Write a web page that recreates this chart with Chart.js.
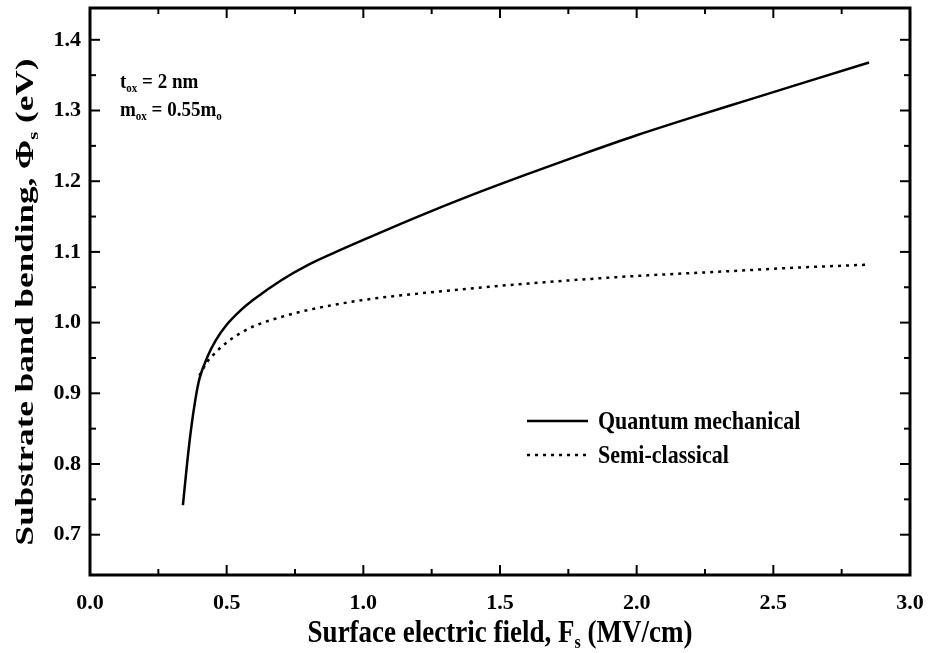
<!DOCTYPE html>
<html>
<head>
<meta charset="utf-8">
<script src="https://cdn.jsdelivr.net/npm/chart.js@4.4.0/dist/chart.umd.min.js"></script>
<style>
  html, body { margin: 0; background: #fff; }
  #wrap { width: 928px; height: 653px; }
</style>
</head>
<body>
<div id="wrap"><canvas id="bandChart"></canvas></div>
<script>
// Quantum mechanical band bending vs. surface field
const qmField   = [0.34, 0.355, 0.37, 0.385, 0.40, 0.43, 0.46, 0.50, 0.55, 0.60, 0.70, 0.80, 0.90, 1.00, 1.20, 1.40, 1.60, 1.80, 2.00, 2.20, 2.40, 2.60, 2.85];
const qmBending = [0.742, 0.80, 0.85, 0.89, 0.92, 0.952, 0.975, 0.997, 1.017, 1.033, 1.060, 1.082, 1.100, 1.117, 1.150, 1.181, 1.210, 1.238, 1.265, 1.290, 1.314, 1.338, 1.368];

// Semi-classical band bending vs. surface field
const scField   = [0.40, 0.43, 0.46, 0.50, 0.55, 0.60, 0.70, 0.80, 1.00, 1.20, 1.50, 1.80, 2.00, 2.30, 2.60, 2.85];
const scBending = [0.925, 0.945, 0.958, 0.972, 0.985, 0.995, 1.008, 1.018, 1.032, 1.041, 1.052, 1.061, 1.066, 1.072, 1.078, 1.082];

const xTicks = [0.0, 0.5, 1.0, 1.5, 2.0, 2.5, 3.0];
const yTicks = [0.7, 0.8, 0.9, 1.0, 1.1, 1.2, 1.3, 1.4];

const FONT = '"Liberation Serif", "Times New Roman", serif';

const toPoints = (xs, ys) => xs.map((v, i) => ({ x: v, y: ys[i] }));

// text with subscript pieces: parts = [[text, isSub], ...]
function richWidth(ctx, parts, size) {
  let w = 0;
  parts.forEach(([t, sub]) => {
    ctx.font = 'bold ' + (sub ? Math.round(size * 0.6) : size) + 'px ' + FONT;
    w += ctx.measureText(t).width;
  });
  return w;
}
// sx/sy stretch the glyphs (tall, condensed print)
function drawRich(ctx, parts, x, y, size, align, sx, sy) {
  ctx.save();
  ctx.translate(x, y);
  ctx.scale(sx || 1, sy || 1);
  let cx = align === 'center' ? -richWidth(ctx, parts, size) / 2 : 0;
  ctx.textBaseline = 'alphabetic';
  ctx.textAlign = 'left';
  parts.forEach(([t, sub]) => {
    ctx.font = 'bold ' + (sub ? Math.round(size * 0.6) : size) + 'px ' + FONT;
    ctx.fillText(t, cx, sub ? size * 0.2 : 0);
    cx += ctx.measureText(t).width;
  });
  ctx.restore();
}

// box frame with inward major/minor ticks on all four sides
const framePlugin = {
  id: 'frame',
  afterDraw(chart) {
    const { ctx, chartArea: a, scales: { x, y } } = chart;
    ctx.save();
    ctx.strokeStyle = '#000';
    const seg = (x1, y1, x2, y2) => { ctx.beginPath(); ctx.moveTo(x1, y1); ctx.lineTo(x2, y2); ctx.stroke(); };
    ctx.lineWidth = 2;
    for (let i = 0; i <= 12; i++) {
      const v = i * 0.25;
      const px = x.getPixelForValue(v);
      const len = i % 2 === 0 ? 10 : 6;
      seg(px, a.bottom, px, a.bottom - len);
      seg(px, a.top, px, a.top + len);
    }
    for (let i = 1; i <= 15; i++) {
      const v = 0.65 + i * 0.05;
      const py = y.getPixelForValue(v);
      const len = i % 2 === 1 ? 10 : 6;
      seg(a.left, py, a.left + len, py);
      seg(a.right, py, a.right - len, py);
    }
    ctx.lineWidth = 3;
    ctx.strokeRect(a.left, a.top, a.right - a.left, a.bottom - a.top);
    ctx.restore();
  }
};

// axis titles, parameter note and legend
const labelPlugin = {
  id: 'labels',
  afterDraw(chart) {
    const { ctx, chartArea: a } = chart;
    ctx.save();
    ctx.fillStyle = '#000';

    drawRich(ctx, [['Surface electric field, F', false], ['s', true], [' (MV/cm)', false]],
      (a.left + a.right) / 2, 642, 27, 'center', 1, 1.2);

    ctx.save();
    ctx.translate(33, 302);
    ctx.rotate(-Math.PI / 2);
    drawRich(ctx, [['Substrate band bending, \u03A6', false], ['s', true], [' (eV)', false]], 0, 0, 27, 'center', 1.3, 0.95);
    ctx.restore();

    drawRich(ctx, [['t', false], ['ox', true], [' = 2 nm', false]], 120, 88, 19, 'left', 1, 1.15);
    drawRich(ctx, [['m', false], ['ox', true], [' = 0.55m', false], ['o', true]], 120, 116, 19, 'left', 1, 1.15);

    // legend
    const lx = 527, lx2 = 588;
    ctx.strokeStyle = '#000';
    ctx.lineWidth = 2.5;
    ctx.beginPath(); ctx.moveTo(lx, 421); ctx.lineTo(lx2, 421); ctx.stroke();
    ctx.setLineDash([3, 5]);
    ctx.beginPath(); ctx.moveTo(lx, 455); ctx.lineTo(lx2, 455); ctx.stroke();
    ctx.setLineDash([]);
    drawRich(ctx, [['Quantum mechanical', false]], 598, 429, 22, 'left', 1, 1.15);
    drawRich(ctx, [['Semi-classical', false]], 598, 463, 22, 'left', 1, 1.15);
    ctx.restore();
  }
};

new Chart(document.getElementById('bandChart').getContext('2d'), {
  type: 'scatter',
  data: {
    datasets: [
      {
        label: 'Quantum mechanical',
        data: toPoints(qmField, qmBending),
        showLine: true,
        borderColor: '#000',
        borderWidth: 2.5,
        pointRadius: 0,
        cubicInterpolationMode: 'monotone'
      },
      {
        label: 'Semi-classical',
        data: toPoints(scField, scBending),
        showLine: true,
        borderColor: '#000',
        borderWidth: 2.5,
        borderDash: [3, 5],
        pointRadius: 0,
        cubicInterpolationMode: 'monotone'
      }
    ]
  },
  options: {
    responsive: true,
    maintainAspectRatio: false,
    animation: false,
    layout: { padding: { top: 8, right: 18, left: 0, bottom: 0 } },
    plugins: { legend: { display: false }, tooltip: { enabled: false } },
    scales: {
      x: {
        type: 'linear',
        min: 0,
        max: 3,
        grid: { display: false, drawTicks: false },
        border: { display: false },
        afterBuildTicks: s => { s.ticks = xTicks.map(v => ({ value: v })); },
        afterFit: s => { s.height = 78; s.paddingLeft = 0; s.paddingRight = 0; },
        ticks: {
          color: '#000',
          padding: 15,
          maxRotation: 0,
          font: { family: FONT, size: 22, weight: 'bold' },
          callback: v => v.toFixed(1)
        }
      },
      y: {
        type: 'linear',
        min: 0.643,
        max: 1.445,
        grid: { display: false, drawTicks: false },
        border: { display: false },
        afterBuildTicks: s => { s.ticks = yTicks.map(v => ({ value: v })); },
        afterFit: s => { s.width = 90; s.paddingTop = 0; s.paddingBottom = 0; },
        ticks: {
          color: '#000',
          padding: 9,
          font: { family: FONT, size: 22, weight: 'bold' },
          callback: v => v.toFixed(1)
        }
      }
    }
  },
  plugins: [framePlugin, labelPlugin]
});
</script>
</body>
</html>
